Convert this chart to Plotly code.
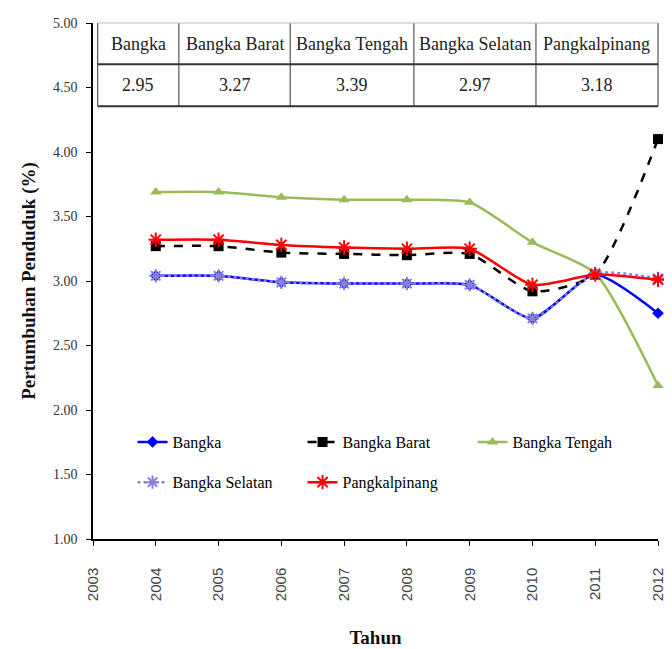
import plotly.graph_objects as go

years = [2004, 2005, 2006, 2007, 2008, 2009, 2010, 2011, 2012]
bangka = [3.04, 3.04, 2.99, 2.98, 2.98, 2.97, 2.71, 3.05, 2.75]
bangka_barat = [3.27, 3.27, 3.22, 3.21, 3.20, 3.21, 2.92, 3.05, 4.10]
bangka_tengah = [3.69, 3.69, 3.65, 3.63, 3.63, 3.61, 3.30, 3.06, 2.19]
bangka_selatan = [3.04, 3.04, 2.99, 2.98, 2.98, 2.97, 2.71, 3.06, 3.02]
pangkalpinang = [3.32, 3.32, 3.28, 3.26, 3.25, 3.25, 2.97, 3.05, 3.01]

table_headers = ["Bangka", "Bangka Barat", "Bangka Tengah", "Bangka Selatan", "Pangkalpinang"]
table_values = ["2.95", "3.27", "3.39", "2.97", "3.18"]

SERIF = "Liberation Serif"
fig = go.Figure()

series = [
    ("Bangka", bangka, dict(color="#0000FF", width=2.5), dict(symbol="diamond", size=9, color="#0000FF"), "legend"),
    ("Bangka Barat", bangka_barat, dict(color="#000000", width=2.5, dash="dash"), dict(symbol="square", size=10, color="#000000"), "legend"),
    ("Bangka Tengah", bangka_tengah, dict(color="#9BBB59", width=2.5), dict(symbol="triangle-up", size=10, color="#9BBB59"), "legend"),
    ("Bangka Selatan", bangka_selatan, dict(color="#8A7FD6", width=2.5, dash="dot"), dict(symbol="asterisk-open", size=11, color="#8A7FD6", line=dict(color="#8A7FD6", width=2)), "legend2"),
    ("Pangkalpinang", pangkalpinang, dict(color="#FF0000", width=2.5), dict(symbol="asterisk-open", size=12, color="#FF0000", line=dict(color="#FF0000", width=2)), "legend2"),
]
for name, vals, line, marker, lg in series:
    line = dict(line, shape="spline", smoothing=0.6)
    fig.add_trace(go.Scatter(x=years, y=vals, name=name, mode="lines+markers", cliponaxis=False,
                             line=line, marker=marker, legend=lg))

# table drawn in paper coordinates above the lines
col_edges = [0.0083, 0.152, 0.349, 0.568, 0.784, 1.0]
y_top, y_mid, y_bot = 1.0, 0.92, 0.8386
shapes = []
for xe in col_edges:
    shapes.append(dict(type="line", xref="paper", yref="paper", x0=xe, x1=xe, y0=y_bot, y1=y_top,
                       line=dict(color="#333333", width=1)))
shapes.append(dict(type="line", xref="paper", yref="paper", x0=col_edges[0], x1=1.0, y0=y_top, y1=y_top,
                   line=dict(color="#bbbbbb", width=1)))
for yy in (y_mid, y_bot):
    shapes.append(dict(type="line", xref="paper", yref="paper", x0=col_edges[0], x1=1.0, y0=yy, y1=yy,
                       line=dict(color="#333333", width=2)))
annotations = []
for i, (h, v) in enumerate(zip(table_headers, table_values)):
    xc = (col_edges[i] + col_edges[i + 1]) / 2
    annotations.append(dict(x=xc, y=(y_top + y_mid) / 2, xref="paper", yref="paper", text=h, showarrow=False,
                            xanchor="center", yanchor="middle",
                            font=dict(family=SERIF, size=18, color="#222222")))
    annotations.append(dict(x=xc, y=(y_mid + y_bot) / 2, xref="paper", yref="paper", text=v, showarrow=False,
                            xanchor="center", yanchor="middle",
                            font=dict(family=SERIF, size=18, color="#222222")))

legend_common = dict(orientation="h", xanchor="left", yanchor="middle", entrywidth=125,
                     entrywidthmode="pixels", font=dict(family=SERIF, size=16, color="#000000"),
                     bgcolor="rgba(0,0,0,0)", itemclick=False)
fig.update_layout(
    width=672, height=649,
    margin=dict(l=85, r=22, t=15, b=118, autoexpand=False),
    paper_bgcolor="white", plot_bgcolor="white",
    showlegend=True,
    legend=dict(legend_common, x=0.070, y=0.188),
    legend2=dict(legend_common, x=0.070, y=0.110),
    shapes=shapes, annotations=annotations,
    xaxis=dict(range=[2003, 2012], dtick=1, tick0=2003, showgrid=False, zeroline=False, automargin=False,
               showline=True, linecolor="black", linewidth=1.5, ticks="outside", ticklen=5,
               tickcolor="black", tickangle=-90, ticklabelstandoff=16,
               tickfont=dict(family="Liberation Sans", size=15, color="#444444"),
               title=dict(text="<b>Tahun</b>", font=dict(family=SERIF, size=19, color="#111111"), standoff=31)),
    yaxis=dict(range=[1, 5], dtick=0.5, tick0=1, tickformat=".2f", showgrid=False, zeroline=False, automargin=False,
               showline=True, linecolor="black", linewidth=1.5, ticks="outside", ticklen=5,
               tickcolor="black", ticklabelstandoff=6,
               tickfont=dict(family=SERIF, size=14, color="#333333"),
               title=dict(text="<b>Pertumbuhan Penduduk (%)</b>", font=dict(family=SERIF, size=19, color="#111111"), standoff=12)),
)
fig.write_html("out.html")
